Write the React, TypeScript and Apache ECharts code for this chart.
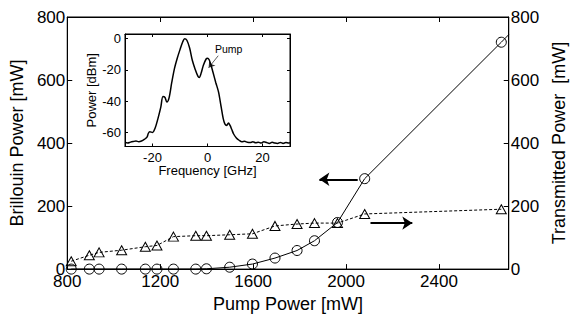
import React, { useEffect, useRef } from "react";
import * as echarts from "echarts";

// Main chart data (Pump power in mW)
const pumpPower = [817, 895, 937, 1034, 1136, 1186, 1257, 1353, 1399, 1499, 1597, 1694, 1789, 1864, 1963, 2080, 2668];
const brillouinPower = [0, 0, 0, 0, 0, 0, 0, 0, 1, 6, 16, 35, 59, 90, 148, 287, 720];
const transmittedPower = [25, 44, 53, 60, 71, 75, 103, 106, 106, 109, 112, 137, 143, 146, 146, 175, 190];
// continuation of the Brillouin line to the plot edge (no marker)
const brillouinTail = [2700, 744];

// Inset spectrum data
const freqGHz = [-30, -29, -28, -27, -26, -25, -24, -23, -22, -21.5, -21, -20, -19, -18, -17, -16.2, -15.5, -14.8, -14, -13, -12, -11, -10, -9, -8.3, -7.5, -6.5, -5.5, -4.5, -3.5, -3, -2.3, -1.5, -0.5, 0, 0.6, 1.3, 2, 3, 4, 5, 5.7, 6.3, 7, 7.6, 8.2, 8.8, 9.5, 10.5, 11.5, 12.5, 13.5, 14.5, 15.5, 16.5, 17.5, 18.5, 19.5, 20.5, 21.5, 22.5, 23.5, 24.5, 25.5, 26.5, 27.5, 28.5, 29.5, 30];
const powerDBm = [-66.5, -66.8, -66.2, -65.8, -65.5, -65.9, -65.5, -64.5, -63, -60.5, -59.5, -60, -57, -51, -44, -37, -37.5, -40.5, -38, -28, -19, -12.5, -7, -2, 0, -1, -6, -14, -19.5, -24, -24.8, -22, -17, -13, -12.5, -13.5, -17, -21.5, -28, -34, -44, -51, -54.5, -55.5, -54, -55.5, -58, -61, -63.5, -65, -66, -65.7, -66.3, -66.5, -66, -66.6, -66.2, -66.8, -66, -66.5, -67, -66.3, -66.8, -67, -66.4, -67, -66.5, -66.8, -66.5];

const mainXTicks = [800, 1200, 1600, 2000, 2400];
const insetXTicks = [-20, 0, 20];
const insetYTicks = [0, -20, -40, -60];

const FONT = "'Liberation Sans', Arial, sans-serif";

export default function App() {
  const ref = useRef<HTMLDivElement>(null);
  useEffect(() => {
    if (!ref.current) return;
    const chart = echarts.init(ref.current, null, { renderer: "svg" });
    const brillouinData: any[] = pumpPower.map((x, i) => [x, brillouinPower[i]]);
    brillouinData.push({ value: brillouinTail, symbol: "none" });
    const transmittedData = pumpPower.map((x, i) => [x, transmittedPower[i]]);
    const spectrum = freqGHz.map((f, i) => [f, powerDBm[i]]);

    const black = "#000";
    const plain = (v: number) => String(v);
    const mainAxisCommon = {
      axisLine: { show: true, onZero: false, lineStyle: { color: black, width: 1 } },
      splitLine: { show: false },
    };
    const insetLine = { show: true, onZero: false, lineStyle: { color: black, width: 1 } };

    chart.setOption({
      animation: false,
      backgroundColor: "#fff",
      textStyle: { fontFamily: FONT, color: black },
      grid: [
        { left: 66, right: 63.5, top: 17, bottom: 41.5, show: true, borderColor: black, borderWidth: 1, backgroundColor: "transparent" },
        { left: 125, top: 34, width: 165, height: 112.5, show: true, borderColor: black, borderWidth: 1, backgroundColor: "#fff", z: 5 },
      ],
      xAxis: [
        {
          ...mainAxisCommon,
          type: "value", gridIndex: 0, position: "bottom", min: 800, max: 2700, interval: 400,
          axisTick: { show: true, inside: true, length: 5, lineStyle: { color: black }, customValues: mainXTicks },
          axisLabel: { color: black, fontSize: 17, fontFamily: FONT, margin: 4, formatter: plain, customValues: mainXTicks },
          name: "Pump Power [mW]", nameLocation: "middle", nameGap: 21,
          nameTextStyle: { color: black, fontSize: 18, fontFamily: FONT },
        },
        {
          ...mainAxisCommon,
          type: "value", gridIndex: 0, position: "top", min: 800, max: 2700, interval: 400,
          axisTick: { show: true, inside: true, length: 5, lineStyle: { color: black }, customValues: mainXTicks },
          axisLabel: { show: false },
        },
        {
          type: "value", gridIndex: 1, position: "bottom", min: -30, max: 30,
          axisLine: insetLine,
          splitLine: { show: false },
          axisTick: { show: true, inside: true, length: 3, lineStyle: { color: black }, customValues: insetXTicks },
          axisLabel: { color: black, fontSize: 13, fontFamily: FONT, margin: 4, formatter: plain, customValues: insetXTicks },
          name: "Frequency [GHz]", nameLocation: "middle", nameGap: 16,
          nameTextStyle: { color: black, fontSize: 13, fontFamily: FONT },
          z: 6,
        },
        {
          type: "value", gridIndex: 1, position: "top", min: -30, max: 30,
          axisLine: insetLine,
          splitLine: { show: false },
          axisTick: { show: true, inside: true, length: 3, lineStyle: { color: black }, customValues: insetXTicks },
          axisLabel: { show: false },
          z: 6,
        },
      ],
      yAxis: [
        {
          ...mainAxisCommon,
          type: "value", gridIndex: 0, position: "left", min: 0, max: 800, interval: 200,
          axisTick: { show: true, inside: true, length: 5, lineStyle: { color: black } },
          axisLabel: { color: black, fontSize: 17, fontFamily: FONT, margin: 2, formatter: plain },
          name: "Brillouin Power [mW]", nameLocation: "middle", nameGap: 33, nameRotate: 90,
          nameTextStyle: { color: black, fontSize: 18, fontFamily: FONT },
        },
        {
          ...mainAxisCommon,
          type: "value", gridIndex: 0, position: "right", min: 0, max: 800, interval: 200,
          axisTick: { show: true, inside: true, length: 5, lineStyle: { color: black } },
          axisLabel: { color: black, fontSize: 17, fontFamily: FONT, margin: 2, formatter: plain },
          name: "Transmitted Power  [mW]", nameLocation: "middle", nameGap: 35, nameRotate: 90,
          nameTextStyle: { color: black, fontSize: 18, fontFamily: FONT },
        },
        {
          type: "value", gridIndex: 1, position: "left", min: -69, max: 3,
          axisLine: insetLine,
          splitLine: { show: false },
          axisTick: { show: true, inside: true, length: 3, lineStyle: { color: black }, customValues: insetYTicks },
          axisLabel: { color: black, fontSize: 13, fontFamily: FONT, margin: 4, formatter: plain, customValues: insetYTicks },
          name: "Power [dBm]", nameLocation: "middle", nameGap: 25, nameRotate: 90,
          nameTextStyle: { color: black, fontSize: 13, fontFamily: FONT },
          z: 6,
        },
        {
          type: "value", gridIndex: 1, position: "right", min: -69, max: 3,
          axisLine: insetLine,
          splitLine: { show: false },
          axisTick: { show: true, inside: true, length: 3, lineStyle: { color: black }, customValues: insetYTicks },
          axisLabel: { show: false },
          z: 6,
        },
      ],
      series: [
        {
          name: "Brillouin", type: "line", xAxisIndex: 0, yAxisIndex: 0,
          data: brillouinData,
          symbol: "circle", symbolSize: 10, showAllSymbol: true,
          itemStyle: { color: "rgba(0,0,0,0)", borderColor: black, borderWidth: 1 },
          lineStyle: { color: black, width: 1 },
          markLine: {
            silent: true, symbol: ["none", "arrow"], symbolSize: 10,
            label: { show: false },
            lineStyle: { color: black, width: 2, type: "solid" },
            data: [[{ coord: [2050, 285] }, { coord: [1885, 285] }]],
          },
        },
        {
          name: "Transmitted", type: "line", xAxisIndex: 0, yAxisIndex: 1,
          data: transmittedData,
          symbol: "triangle", symbolSize: [10, 9], showAllSymbol: true,
          itemStyle: { color: "rgba(0,0,0,0)", borderColor: black, borderWidth: 1 },
          lineStyle: { color: black, width: 1, type: [3, 2] },
          markLine: {
            silent: true, symbol: ["none", "arrow"], symbolSize: 10,
            label: { show: false },
            lineStyle: { color: black, width: 2, type: "solid" },
            data: [[{ coord: [2105, 146] }, { coord: [2285, 146] }]],
          },
        },
        {
          name: "Spectrum", type: "line", xAxisIndex: 2, yAxisIndex: 2,
          data: spectrum, symbol: "none", smooth: 0.3, z: 7,
          lineStyle: { color: black, width: 1.5 },
          markLine: {
            silent: true, symbol: ["none", "arrow"], symbolSize: 6,
            label: { show: false },
            lineStyle: { color: "#333", width: 0.8, type: "solid" },
            data: [[{ coord: [3.9, -10.9] }, { coord: [0.4, -18.6] }]],
          },
          markPoint: {
            silent: true, symbol: "rect", symbolSize: 1,
            itemStyle: { color: "rgba(0,0,0,0)" },
            label: { show: true, position: "inside", formatter: "Pump", color: black, fontSize: 10.5, fontFamily: FONT },
            data: [{ coord: [7.7, -6.75] }],
          },
        },
      ],
    });
    return () => chart.dispose();
  }, []);
  return <div ref={ref} style={{ position: "absolute", left: 0, top: 0, width: 576, height: 318 }} />;
}
